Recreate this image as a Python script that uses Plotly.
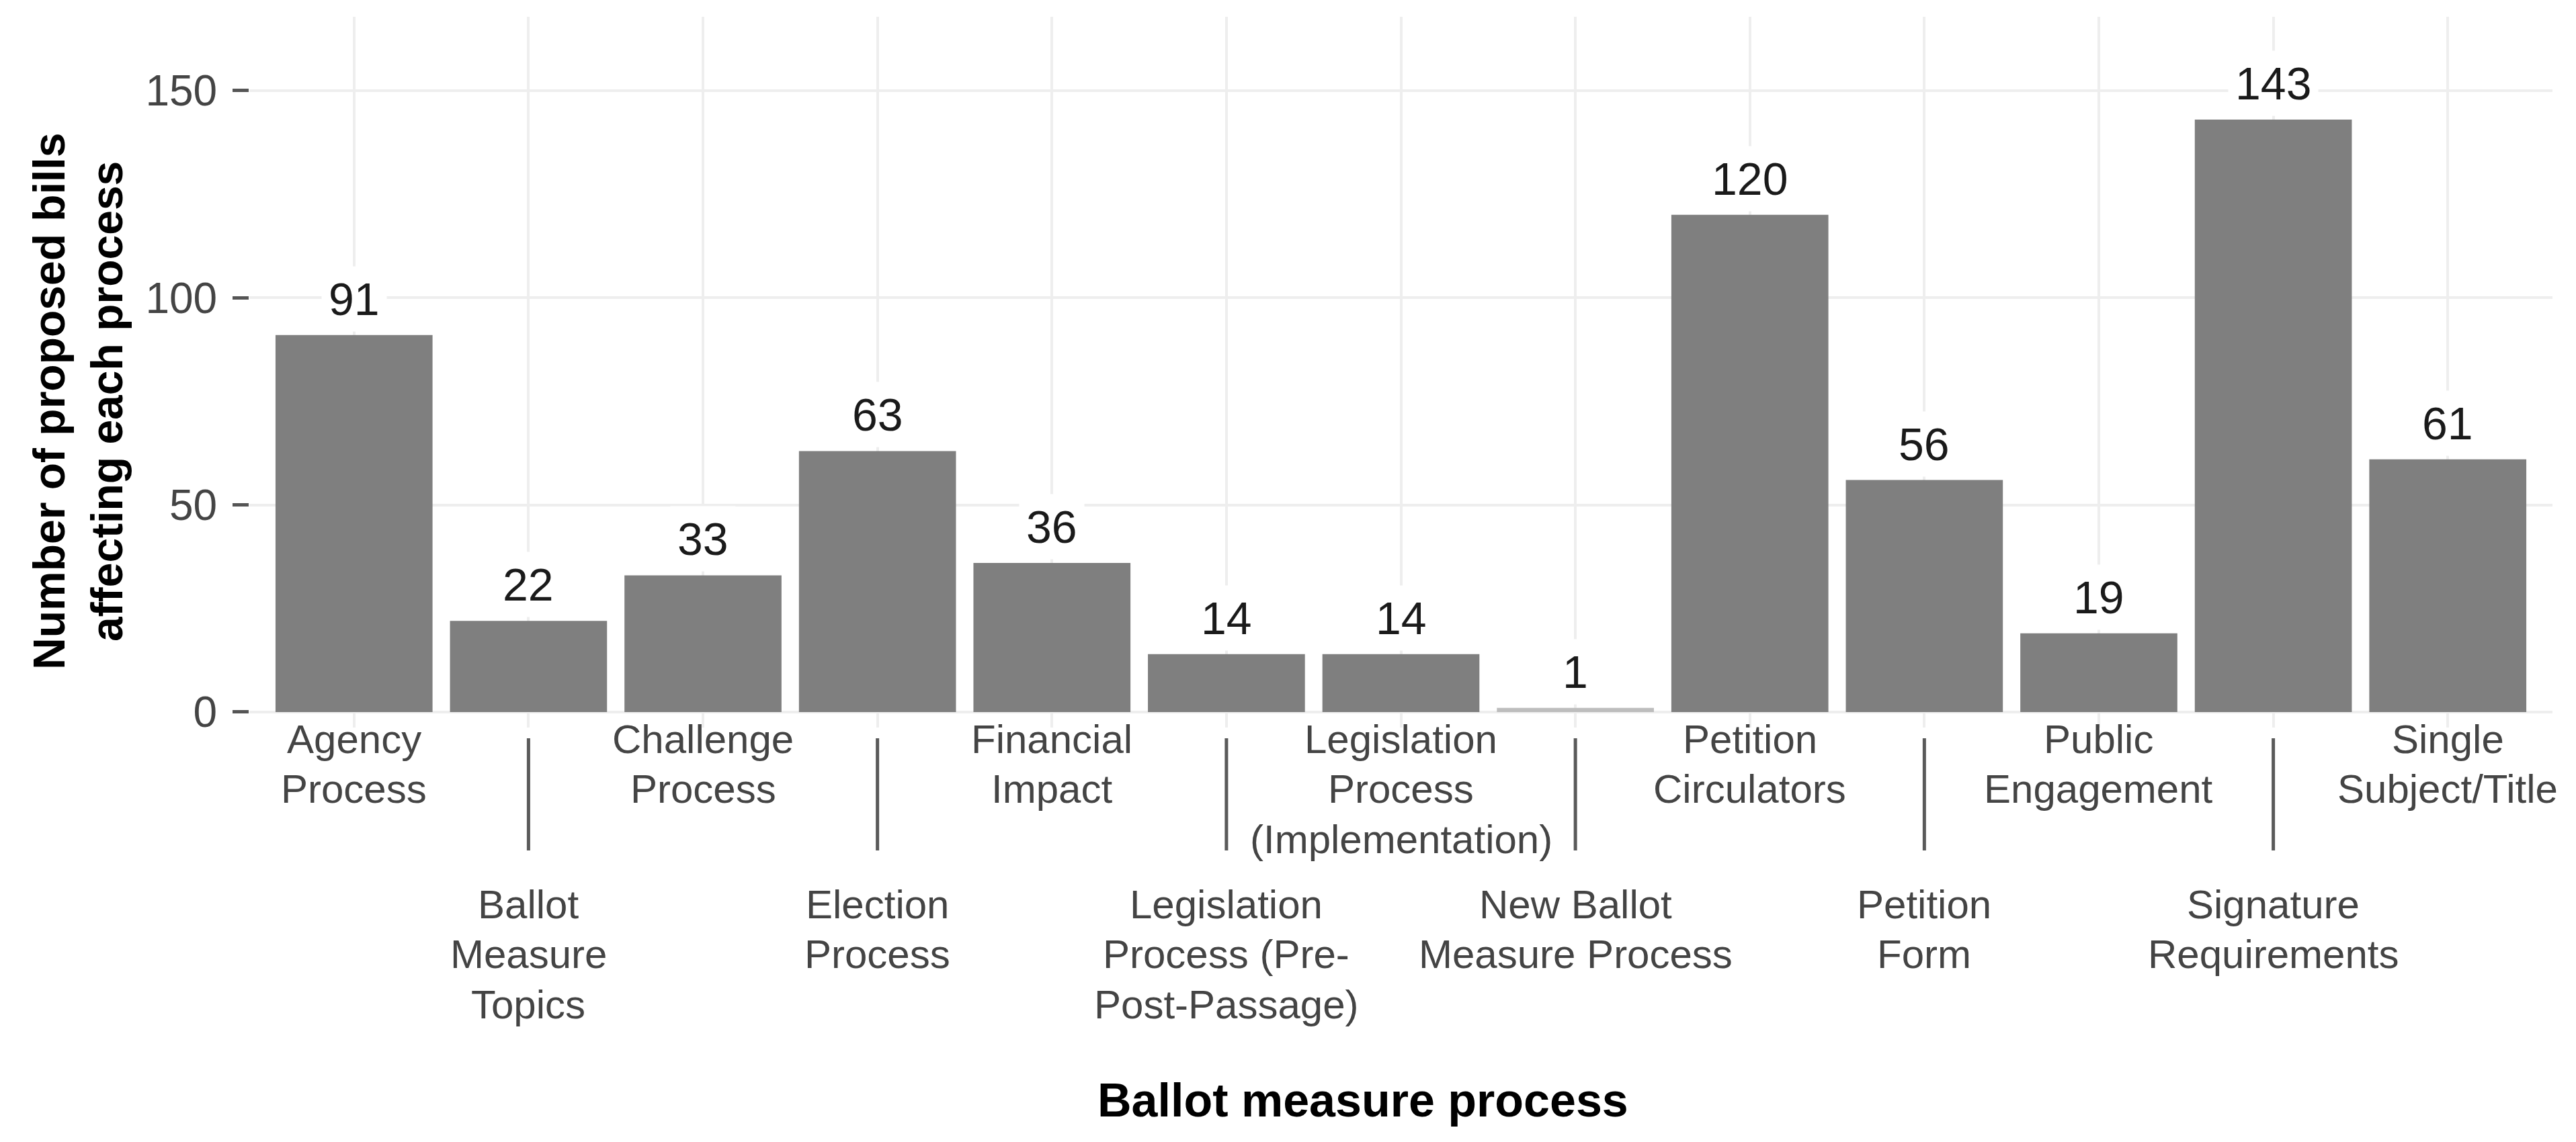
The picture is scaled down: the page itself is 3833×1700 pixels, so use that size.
import plotly.graph_objects as go

# ---- data ----
categories = [
    "Agency Process", "Ballot Measure Topics", "Challenge Process", "Election Process",
    "Financial Impact", "Legislation Process (Pre-Post-Passage)",
    "Legislation Process (Implementation)", "New Ballot Measure Process",
    "Petition Circulators", "Petition Form", "Public Engagement",
    "Signature Requirements", "Single Subject/Title",
]
counts = [91, 22, 33, 63, 36, 14, 14, 1, 120, 56, 19, 143, 61]
tick_labels = [
    "Agency\nProcess", "Ballot\nMeasure\nTopics", "Challenge\nProcess", "Election\nProcess",
    "Financial\nImpact", "Legislation\nProcess (Pre-\nPost-Passage)",
    "Legislation\nProcess\n(Implementation)", "New Ballot\nMeasure Process",
    "Petition\nCirculators", "Petition\nForm", "Public\nEngagement",
    "Signature\nRequirements", "Single\nSubject/Title",
]
y_ticks = [0, 50, 100, 150]
x_title = "Ballot measure process"
y_title = "Number of proposed bills<br>affecting each process"

# ---- layout constants (pixels) ----
W, H = 3833, 1700
L, R, T, B = 363, 43, 17, 625
PW, PH = W - L - R, H - T - B
FONT = "Liberation Sans, Arial, Helvetica, sans-serif"
BAR = "#7f7f7f"
GRID = "#eeeeee"
AXTXT = "#444444"

bar_colors = [BAR if v > 1 else "#bdbdbd" for v in counts]

fig = go.Figure(go.Bar(
    x=categories, y=counts, width=0.9,
    marker=dict(color=bar_colors, line=dict(width=0)),
    hoverinfo="skip",
))

annotations = []
# value labels with white background
for c, v in zip(categories, counts):
    annotations.append(dict(
        x=c, y=v, xref="x", yref="y", text=str(v), showarrow=False,
        yanchor="bottom", xanchor="center", bgcolor="white", borderpad=10,
        yshift=5,
        font=dict(family=FONT, size=68, color="#1a1a1a"),
    ))

# category labels, staggered in two rows, one annotation per line
fs = 60
row_base = [1112, 1358]   # first-line baseline (px from top)
line_gap = 74.5
zero_px = 1052
for i, (c, lab) in enumerate(zip(categories, tick_labels)):
    for j, line in enumerate(lab.split("\n")):
        baseline = row_base[i % 2] + j * line_gap
        top = baseline - 0.905 * fs - 1
        annotations.append(dict(
            x=c, y=0, xref="x", yref="y", text=line, showarrow=False,
            xanchor="center", yanchor="top", yshift=-(top - zero_px),
            font=dict(family=FONT, size=fs, color=AXTXT),
        ))

# axis titles
annotations.append(dict(
    x=(108 - L) / PW, y=(T + PH - 590) / PH, xref="paper", yref="paper",
    text=y_title, showarrow=False, textangle=-90,
    xanchor="center", yanchor="middle",
    font=dict(family=FONT, size=66, color="black", weight="bold"),
))
annotations.append(dict(
    x=(2020 - L) / PW, y=(T + PH - 1630) / PH, xref="paper", yref="paper",
    text=x_title, showarrow=False, xanchor="center", yanchor="middle",
    font=dict(family=FONT, size=70, color="black", weight="bold"),
))

# long tick lines for the second row of labels (y in pixels below plot bottom)
shapes = []
for i, c in enumerate(categories):
    if i % 2 == 1:
        shapes.append(dict(
            type="line", xref="x", yref="paper", ysizemode="pixel", yanchor=0,
            x0=c, x1=c, y0=-16, y1=-183,
            line=dict(color="#5a5a5a", width=5),
        ))

fig.update_layout(
    width=W, height=H,
    margin=dict(l=L, r=R, t=T, b=B, pad=0),
    paper_bgcolor="white", plot_bgcolor="white",
    showlegend=False,
    annotations=annotations, shapes=shapes,
    xaxis=dict(
        type="category", range=[-0.6, 12.6], showticklabels=False, ticks="",
        showgrid=True, gridcolor=GRID, gridwidth=4, showline=False, zeroline=False,
        fixedrange=True,
    ),
    yaxis=dict(
        range=[-3.73, 167.8], tickvals=y_ticks, ticks="outside", ticklen=24,
        tickwidth=5, tickcolor="#555555", ticklabelstandoff=10,
        tickfont=dict(family=FONT, size=64, color=AXTXT),
        showgrid=True, gridcolor=GRID, gridwidth=4, showline=False, zeroline=False,
        fixedrange=True,
    ),
)

fig.write_html("out.html")
